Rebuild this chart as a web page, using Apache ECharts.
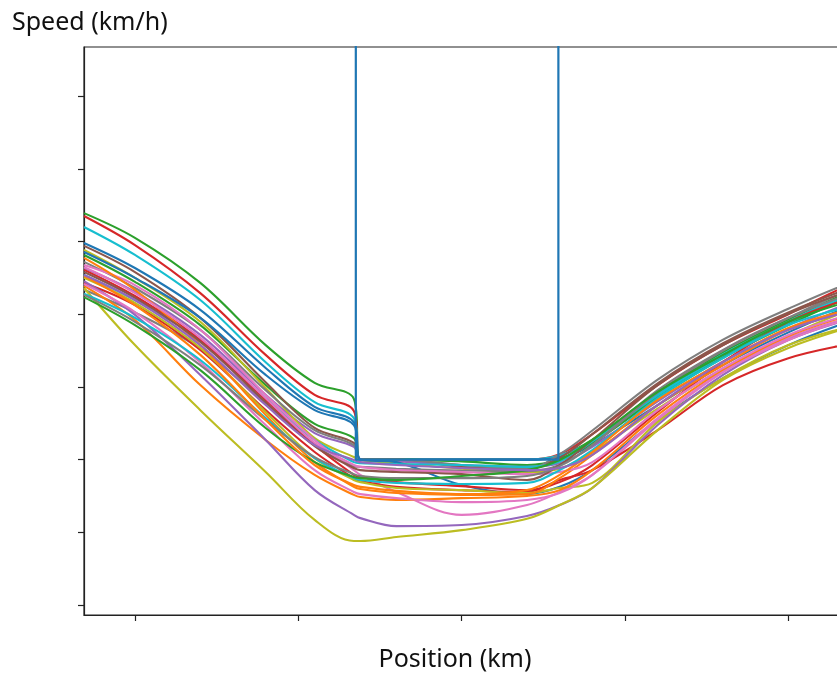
<!DOCTYPE html>
<html>
<head>
<meta charset="utf-8">
<script src="https://cdn.jsdelivr.net/npm/echarts@6/dist/echarts.min.js"></script>
<style>
  html, body { margin: 0; padding: 0; background: #fff; }
  #chart { width: 837px; height: 673px; }
</style>
</head>
<body>
<div id="chart"></div>
<script>
// Track positions (km) where every run is sampled
const positions = [0.844, 1.0, 1.2, 1.4, 1.55, 1.67, 1.69, 1.8, 2.0, 2.2, 2.3, 2.4, 2.6, 2.8, 3.0, 3.2, 3.36];

// Speed restriction zone (km/h); the unrestricted part sits far above the plotted range
const limitPositions = [0.844, 1.676, 1.676, 2.296, 2.296, 3.36];
const limitSpeeds = [400, 400, 40, 40, 400, 400];

// Recorded speed of each run (km/h) at the positions above
const speedRuns = [
  [107.8, 101.0, 88.6, 71.5, 61.1, 56.7, 40, 40, 40, 40, 41.0, 45.5, 58.5, 69.5, 78.5, 86.5, 90.5],
  [107.0, 99.0, 85.8, 68.8, 57.8, 53.4, 40, 40, 40, 40, 41.5, 47.0, 60.5, 71.5, 80.0, 88.5, 92.0],
  [104.0, 96.3, 83.9, 66.8, 55.8, 51.4, 40, 40, 40, 40, 41.2, 45.0, 57.5, 68.5, 77.5, 85.5, 89.5],
  [99.6, 92.7, 81.2, 65.2, 54.5, 50.3, 40, 40, 40, 40, 40.5, 44.0, 55.0, 66.0, 75.0, 82.5, 86.5],
  [96.3, 88.9, 77.0, 60.5, 49.8, 45.9, 40, 40, 39.5, 38.5, 40.0, 44.5, 57.0, 68.0, 77.0, 85.0, 89.0],
  [98.8, 91.6, 79.0, 61.3, 48.7, 44.6, 40, 40, 38.0, 37.5, 40.5, 47.0, 61.0, 72.0, 80.5, 87.5, 91.5],
  [92.7, 86.1, 74.3, 57.8, 47.3, 43.5, 40, 39.5, 38.5, 38.0, 39.0, 43.5, 56.0, 67.0, 76.0, 83.5, 87.5],
  [97.7, 90.0, 77.9, 59.7, 45.9, 40.7, 39.8, 39.0, 37.5, 36.5, 37.5, 42.0, 54.0, 65.0, 74.0, 81.5, 85.0],
  [94.4, 87.2, 75.7, 59.1, 48.1, 44.0, 40, 40, 38.5, 37.5, 41.5, 48.0, 62.0, 73.0, 81.5, 89.0, 93.0],
  [97.1, 90.0, 79.0, 63.3, 53.6, 49.5, 40, 39.3, 33.0, 30.5, 32.5, 37.1, 50.9, 62.4, 71.5, 78.4, 82.5],
  [90.8, 83.9, 72.9, 56.9, 45.4, 39.3, 39.0, 38.8, 38.5, 38.0, 39.5, 45.0, 58.0, 69.0, 78.0, 86.0, 90.0],
  [86.7, 80.5, 70.5, 55.5, 44.0, 38.2, 38.0, 37.5, 37.0, 36.8, 38.5, 44.0, 58.5, 70.0, 79.0, 87.0, 91.0],
  [93.5, 88.0, 75.7, 57.8, 45.4, 37.1, 35.8, 31.1, 24.8, 27.5, 31.1, 35.8, 50.9, 64.1, 73.5, 79.5, 83.4],
  [92.2, 85.0, 72.9, 56.4, 44.0, 35.8, 35.2, 33.8, 32.7, 31.6, 33.8, 38.5, 53.1, 66.8, 77.9, 84.7, 88.0],
  [88.6, 82.5, 70.2, 53.6, 42.1, 34.9, 34.1, 32.5, 31.6, 31.1, 34.4, 37.1, 48.1, 60.5, 67.9, 72.1, 75.1],
  [90.0, 83.1, 70.7, 53.1, 40.4, 34.4, 33.8, 32.2, 31.6, 30.8, 32.2, 33.6, 50.3, 62.4, 71.5, 77.0, 81.2],
  [95.5, 86.7, 71.5, 52.3, 39.3, 32.5, 31.9, 30.8, 30.3, 30.5, 34.9, 41.3, 55.0, 66.0, 75.7, 81.2, 85.0],
  [87.8, 78.4, 60.5, 45.4, 35.8, 30.3, 29.7, 28.9, 29.4, 30.0, 31.6, 37.1, 52.3, 64.6, 74.0, 80.1, 83.9],
  [89.1, 79.8, 63.3, 45.4, 31.6, 24.8, 23.9, 21.7, 22.0, 24.5, 27.5, 32.2, 49.5, 63.3, 72.9, 79.0, 82.8],
  [87.2, 71.5, 53.6, 36.6, 23.4, 17.6, 17.6, 18.7, 20.6, 23.7, 27.5, 32.2, 48.1, 61.9, 70.7, 76.8, 81.2],
  [88.3, 80.6, 66.8, 49.5, 37.1, 31.1, 30.5, 29.4, 28.3, 28.9, 30.8, 35.8, 51.4, 64.1, 72.9, 79.2, 83.4],
  [93.0, 85.8, 73.5, 56.9, 44.6, 38.5, 38.0, 37.1, 36.6, 36.0, 36.6, 39.3, 53.6, 65.2, 74.3, 80.3, 84.5],
  [85.6, 79.0, 67.4, 51.4, 40.4, 34.9, 34.4, 33.6, 33.3, 33.6, 37.1, 42.6, 56.9, 67.9, 77.0, 82.5, 86.1],
  [91.6, 84.5, 72.4, 55.8, 43.7, 37.7, 37.1, 36.6, 36.0, 34.4, 38.5, 45.4, 60.5, 71.5, 80.1, 86.7, 90.5],
  [85.3, 77.9, 66.0, 50.9, 40.7, 36.0, 35.5, 34.9, 34.9, 35.5, 38.2, 44.0, 59.1, 70.2, 79.0, 85.8, 89.4],
  [84.7, 77.0, 64.6, 48.7, 39.3, 35.2, 34.9, 34.4, 35.5, 37.1, 39.9, 45.4, 58.6, 68.8, 77.9, 83.9, 87.5],
  [90.5, 82.5, 68.8, 50.9, 38.5, 33.0, 32.5, 31.4, 30.5, 31.6, 35.8, 42.1, 56.4, 66.8, 76.2, 81.7, 85.6],
  [90.8, 83.9, 71.5, 55.0, 44.0, 39.9, 39.3, 38.5, 37.7, 37.1, 37.7, 41.3, 55.0, 66.8, 75.7, 81.2, 85.0]
];

const runColors = [
  '#2ca02c', '#d62728', '#17becf', '#1f77b4', '#2ca02c', '#8c564b', '#9467bd',
  '#bcbd22', '#7f7f7f', '#1f77b4', '#17becf', '#7f7f7f', '#e377c2', '#d62728',
  '#d62728', '#bcbd22', '#ff7f0e', '#ff7f0e', '#9467bd', '#bcbd22', '#e377c2',
  '#e377c2', '#17becf', '#8c564b', '#7f7f7f', '#2ca02c', '#ff7f0e', '#9467bd'
];

const limitColor = '#1f77b4';

// Tick marks (no labels are printed)
const xTicks = [1.0, 1.5, 2.0, 2.5, 3.0];
const yTicks = [0, 20, 40, 60, 80, 100, 120, 140];

const xRange = [0.844, 3.36];
const yRange = [-2.75, 153.5];

const axisColor = '#222';
const fontFamily = '"Noto Sans", "Open Sans", sans-serif';

const series = speedRuns.map((run, i) => ({
  type: 'line',
  data: positions.map((p, k) => [p, run[k]]),
  smooth: 0.35,
  showSymbol: false,
  clip: true,
  lineStyle: { color: runColors[i], width: 2.1 },
  itemStyle: { color: runColors[i] },
  emphasis: { disabled: true }
}));

series.push({
  type: 'line',
  data: limitPositions.map((p, k) => [p, limitSpeeds[k]]),
  showSymbol: false,
  clip: true,
  lineStyle: { color: limitColor, width: 2.2 },
  itemStyle: { color: limitColor },
  emphasis: { disabled: true }
});

const chart = echarts.init(document.getElementById('chart'), null, { renderer: 'canvas' });
chart.setOption({
  animation: false,
  backgroundColor: '#fff',
  grid: {
    left: 84, top: 47, width: 822, height: 568,
    outerBoundsMode: 'none',
    containLabel: false,
    show: true, borderColor: axisColor, borderWidth: 1.2, backgroundColor: 'transparent'
  },
  xAxis: {
    type: 'value',
    min: xRange[0], max: xRange[1],
    name: 'Position (km)',
    nameLocation: 'middle',
    nameGap: 32,
    nameTextStyle: { fontSize: 25, color: '#111', fontFamily: fontFamily, padding: [0, 80, 0, 0] },
    axisLine: { show: true, onZero: false, lineStyle: { color: axisColor, width: 1.2 } },
    axisTick: { show: true, inside: false, length: 6, customValues: xTicks, lineStyle: { color: axisColor, width: 1.2 } },
    axisLabel: { show: false },
    splitLine: { show: false }
  },
  yAxis: {
    type: 'value',
    min: yRange[0], max: yRange[1],
    name: 'Speed (km/h)',
    nameLocation: 'end',
    nameGap: 12,
    nameTextStyle: { fontSize: 25, color: '#111', fontFamily: fontFamily, align: 'left', padding: [0, 0, 0, -72] },
    axisLine: { show: true, onZero: false, lineStyle: { color: axisColor, width: 1.2 } },
    axisTick: { show: true, inside: false, length: 6, customValues: yTicks, lineStyle: { color: axisColor, width: 1.2 } },
    axisLabel: { show: false },
    splitLine: { show: false }
  },
  series: series
});
</script>
</body>
</html>
